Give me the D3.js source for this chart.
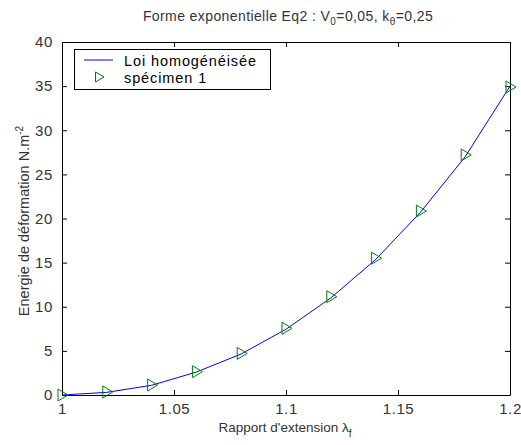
<!DOCTYPE html>
<html><head><meta charset="utf-8">
<script src="https://cdn.jsdelivr.net/npm/d3@7"></script>
<style>body{margin:0;background:#fff;font-family:"Liberation Sans",Arial,sans-serif;}</style>
</head><body>
<script>
const lambdaValues = [1, 1.02, 1.04, 1.06, 1.08, 1.1, 1.12, 1.14, 1.16, 1.18, 1.2];
const lawValues = [0, 0.3, 1.1, 2.6, 4.65, 7.45, 11.0, 15.35, 20.7, 27.0, 35.0];
const specimenValues = [0, 0.34, 1.13, 2.64, 4.72, 7.56, 11.14, 15.5, 20.85, 27.2, 34.9];
const xTicks = [1, 1.05, 1.1, 1.15, 1.2];
const yTicks = [0, 5, 10, 15, 20, 25, 30, 35, 40];

const W = 521, H = 445;
const m = {l: 62, r: 11, t: 42, b: 50};
const svg = d3.select("body").append("svg").attr("width", W).attr("height", H);
const x = d3.scaleLinear().domain([1, 1.2]).range([m.l, W - m.r]);
const y = d3.scaleLinear().domain([0, 40]).range([H - m.b, m.t]);
const font = "Liberation Sans, Arial, sans-serif";

svg.append("rect").attr("x", m.l).attr("y", m.t).attr("width", W - m.r - m.l).attr("height", H - m.b - m.t)
  .attr("fill", "#fff");

const ax = (g) => g.selectAll("text").attr("font-family", font).attr("font-size", 15).attr("letter-spacing", 0.6).attr("fill", "#333");
svg.append("g").attr("transform", `translate(0,${H - m.b})`)
  .call(d3.axisBottom(x).tickValues(xTicks).tickFormat(d => d3.format("")(+d.toFixed(2))).tickSizeInner(-5).tickSizeOuter(0).tickPadding(8))
  .call(ax).call(g => g.select(".domain").attr("stroke", "#000"));
svg.append("g").attr("transform", `translate(0,${m.t})`)
  .call(d3.axisTop(x).tickValues(xTicks).tickFormat("").tickSizeInner(-5).tickSizeOuter(0))
  .call(g => g.select(".domain").attr("stroke", "#000"));
svg.append("g").attr("transform", `translate(${m.l},0)`)
  .call(d3.axisLeft(y).tickValues(yTicks).tickSizeInner(-5).tickSizeOuter(0).tickPadding(9))
  .call(ax).call(g => g.select(".domain").attr("stroke", "#000"));
svg.append("g").attr("transform", `translate(${W - m.r},0)`)
  .call(d3.axisRight(y).tickValues(yTicks).tickFormat("").tickSizeInner(-5).tickSizeOuter(0))
  .call(g => g.select(".domain").attr("stroke", "#000"));

const line = d3.line().x((d, i) => x(lambdaValues[i])).y(d => y(d));
svg.append("path").datum(lawValues).attr("d", line).attr("fill", "none").attr("stroke", "#0000ff").attr("stroke-width", 1);

const tri = "M-4,-6 L6,0 L-4,6 Z";
svg.append("g").selectAll("path").data(specimenValues).join("path")
  .attr("transform", (d, i) => `translate(${x(lambdaValues[i])},${y(d)})`)
  .attr("d", tri).attr("fill", "none").attr("stroke", "#008000").attr("stroke-width", 1);

const lg = svg.append("g");
lg.append("rect").attr("x", 74.5).attr("y", 49.5).attr("width", 196).attr("height", 40)
  .attr("fill", "#fff").attr("stroke", "#000");
lg.append("line").attr("x1", 84).attr("x2", 113).attr("y1", 60).attr("y2", 60).attr("stroke", "#0000ff");
lg.append("path").attr("transform", "translate(99,77)").attr("d", "M-3.5,-5 L5,0 L-3.5,5 Z")
  .attr("fill", "none").attr("stroke", "#008000");
lg.append("text").attr("x", 124).attr("y", 66).text("Loi homogénéisée")
  .attr("font-family", font).attr("font-size", 14.5).attr("letter-spacing", 0.9).attr("fill", "#000");
lg.append("text").attr("x", 124).attr("y", 83).text("spécimen 1")
  .attr("font-family", font).attr("font-size", 14.5).attr("letter-spacing", 0.9).attr("fill", "#000");

const t = svg.append("text").attr("x", 288).attr("y", 21).attr("text-anchor", "middle")
  .attr("font-family", font).attr("font-size", 14).attr("letter-spacing", 0.4).attr("fill", "#333");
t.append("tspan").text("Forme exponentielle Eq2 : V");
t.append("tspan").attr("dy", 4).attr("font-size", 10).text("0");
t.append("tspan").attr("dy", -4).text("=0,05, k");
t.append("tspan").attr("dy", 4).attr("font-size", 10).text("θ");
t.append("tspan").attr("dy", -4).text("=0,25");

const xl = svg.append("text").attr("x", 285).attr("y", 432).attr("text-anchor", "middle")
  .attr("font-family", font).attr("font-size", 13.5).attr("fill", "#333");
xl.append("tspan").text("Rapport d'extension λ");
xl.append("tspan").attr("dy", 5).attr("font-size", 10).text("f");

const yl = svg.append("text").attr("transform", "translate(29,221) rotate(-90)").attr("text-anchor", "middle")
  .attr("font-family", font).attr("font-size", 14.5).attr("fill", "#333");
yl.append("tspan").text("Energie de déformation N.m");
yl.append("tspan").attr("dy", -6).attr("font-size", 10).text("-2");
</script>
</body></html>
